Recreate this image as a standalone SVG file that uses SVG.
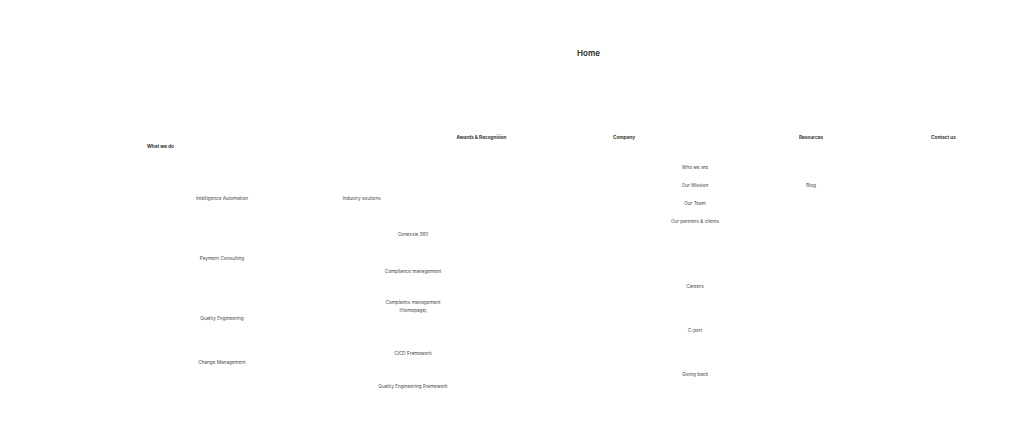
<svg xmlns="http://www.w3.org/2000/svg" width="1024" height="424" viewBox="0 0 1024 424">
<style>
text{font-family:"Inter","Liberation Sans",sans-serif;text-anchor:middle}
.title{font-size:8px;font-weight:600;fill:#222}
.head{font-size:4.7px;font-weight:700;fill:#333}
.item{font-size:4.7px;font-weight:400;fill:#444}
</style>
<rect width="1024" height="424" fill="#ffffff"/>
<g id="connectors"/>
<g id="home"><text class="title" x="588.5" y="55.8">Home</text></g>
<g id="what-we-do"><text class="head" x="160.5" y="147.8">What we do</text></g>
<g id="awards"><text class="head" x="481.5" y="138.8">Awards &amp; Recognition</text></g>
<g id="company"><text class="head" x="624" y="138.8">Company</text></g>
<g id="resources"><text class="head" x="811" y="138.8">Resources</text></g>
<g id="contact"><text class="head" x="943.5" y="138.8">Contact us</text></g>
<g id="who-we-are"><text class="item" x="695" y="168.8">Who we are</text></g>
<g id="our-mission"><text class="item" x="695" y="186.8">Our Mission</text></g>
<g id="our-team"><text class="item" x="695" y="204.8">Our Team</text></g>
<g id="partners"><text class="item" x="695" y="222.8">Our partners &amp; clients</text></g>
<g id="blog"><text class="item" x="811" y="186.8">Blog</text></g>
<g id="intelligence-automation"><text class="item" x="222" y="199.8">Intelligence Automation</text></g>
<g id="industry-solutions"><text class="item" x="361.5" y="199.8">Industry soutions</text></g>
<g id="conexxia"><text class="item" x="413" y="236.3">Conexxia 360</text></g>
<g id="payment-consulting"><text class="item" x="222" y="259.8">Payment Consulting</text></g>
<g id="compliance"><text class="item" x="413" y="272.8">Compliance management</text></g>
<g id="complaints"><text class="item" x="413" y="304.2">Complaints management</text><text class="item" x="413" y="311.7">(Homepage)</text></g>
<g id="quality-engineering"><text class="item" x="222" y="319.8">Quality Engineering</text></g>
<g id="careers"><text class="item" x="695" y="287.8">Careers</text></g>
<g id="c-port"><text class="item" x="695" y="331.8">C-port</text></g>
<g id="change-management"><text class="item" x="222" y="363.8">Change Management</text></g>
<g id="cicd"><text class="item" x="413" y="354.8">CICD Framework</text></g>
<g id="qe-framework"><text class="item" x="413" y="387.8">Quality Engineering Framework</text></g>
<g id="giving-back"><text class="item" x="695" y="375.8">Giving back</text></g>
</svg>
